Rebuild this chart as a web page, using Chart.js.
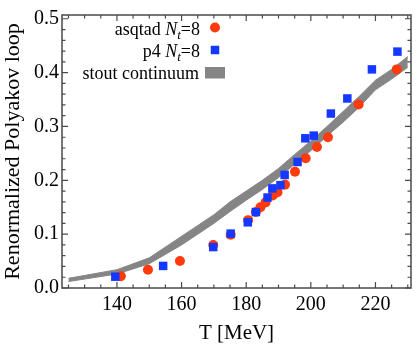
<!doctype html>
<html>
<head>
    <title>Renormalized Polyakov loop</title>
    <meta charset="utf-8">
    <style>
        html, body {
            background: #fff;
            margin: 0;
            padding: 0;
        }

        .container {
            height: 346px;
            position: relative;
            width: 417px;
        }
    </style>
    <script src="https://cdn.jsdelivr.net/npm/chart.js@4/dist/chart.umd.min.js"></script>
</head>
<body>
<div class="container">
    <canvas id="chart" width="417" height="346"></canvas>
</div>
<script>
    "use strict";

    // asqtad, N_t = 8
    const asqtadT = [141.2, 149.6, 159.5, 169.8, 175.2, 180.6, 183.0, 184.4, 186.0, 188.2, 189.7, 192.0, 195.1, 198.4, 201.9, 205.3, 214.8, 226.6];
    const asqtadL = [0.022, 0.034, 0.050, 0.080, 0.099, 0.126, 0.141, 0.150, 0.159, 0.172, 0.178, 0.192, 0.216, 0.241, 0.262, 0.280, 0.341, 0.406];

    // p4, N_t = 8
    const p4T = [139.5, 154.3, 169.8, 175.2, 180.5, 183.0, 186.6, 188.1, 190.6, 191.9, 195.9, 198.3, 200.9, 206.2, 211.3, 218.9, 226.8];
    const p4L = [0.021, 0.041, 0.076, 0.101, 0.122, 0.141, 0.168, 0.185, 0.191, 0.210, 0.234, 0.278, 0.283, 0.324, 0.352, 0.406, 0.439];

    // stout continuum band
    const stoutT = [125, 140, 150, 160, 165, 170, 175, 180, 185, 190, 195, 200, 205, 210, 215, 220, 225, 230];
    const stoutLow = [0.012, 0.026, 0.045, 0.080, 0.100, 0.120, 0.142, 0.163, 0.183, 0.205, 0.230, 0.255, 0.282, 0.308, 0.336, 0.368, 0.388, 0.410];
    const stoutHigh = [0.018, 0.034, 0.056, 0.096, 0.116, 0.136, 0.160, 0.180, 0.200, 0.222, 0.248, 0.273, 0.300, 0.328, 0.356, 0.386, 0.406, 0.430];

    const xTicks = [140, 160, 180, 200, 220];
    const xMinorTicks = [125, 130, 135, 145, 150, 155, 165, 170, 175, 185, 190, 195, 205, 210, 215, 225, 230];
    const yTicks = [0.0, 0.1, 0.2, 0.3, 0.4, 0.5];
    const yMinorTicks = [0.02, 0.04, 0.06, 0.08, 0.12, 0.14, 0.16, 0.18, 0.22, 0.24, 0.26, 0.28, 0.32, 0.34, 0.36, 0.38, 0.42, 0.44, 0.46, 0.48];

    const serif = "'Liberation Serif', 'DejaVu Serif', serif";
    const redColor = "#ff3a0c";
    const blueColor = "#1438ff";
    const bandColor = "#858585";
    const frameColor = "#4a4a4a";

    function points(xs, ys) {
        return xs.map(function (x, i) {
            return {x: x, y: ys[i]};
        });
    }

    // frame with inward ticks on all four sides
    const framePlugin = {
        id: "frame",
        afterDraw: function (chart) {
            let ctx = chart.ctx;
            let a = chart.chartArea;
            let sx = chart.scales.x;
            let sy = chart.scales.y;
            ctx.save();
            ctx.strokeStyle = frameColor;
            ctx.lineWidth = 1.5;
            ctx.strokeRect(a.left, a.top, a.right - a.left, a.bottom - a.top);
            ctx.lineWidth = 1.2;
            ctx.beginPath();
            function xt(v, len) {
                let px = sx.getPixelForValue(v);
                ctx.moveTo(px, a.bottom);
                ctx.lineTo(px, a.bottom - len);
                ctx.moveTo(px, a.top);
                ctx.lineTo(px, a.top + len);
            }
            function yt(v, len) {
                let py = sy.getPixelForValue(v);
                ctx.moveTo(a.left, py);
                ctx.lineTo(a.left + len, py);
                ctx.moveTo(a.right, py);
                ctx.lineTo(a.right - len, py);
            }
            xTicks.forEach(function (v) { xt(v, 6); });
            xMinorTicks.forEach(function (v) { xt(v, 3.5); });
            yTicks.forEach(function (v) { yt(v, 6); });
            yMinorTicks.forEach(function (v) { yt(v, 3.5); });
            ctx.stroke();
            ctx.restore();
        },
    };

    // legend with italic N and subscript t
    const legendPlugin = {
        id: "customLegend",
        afterDraw: function (chart) {
            let ctx = chart.ctx;
            let size = 18;
            let normal = size + "px " + serif;
            let italic = "italic " + size + "px " + serif;
            let sub = "italic " + Math.round(size * 0.72) + "px " + serif;

            function row(parts, right, baseline) {
                let total = 0;
                parts.forEach(function (p) {
                    ctx.font = p[1];
                    total += ctx.measureText(p[0]).width;
                });
                let x = right - total;
                parts.forEach(function (p) {
                    ctx.font = p[1];
                    ctx.fillText(p[0], x, baseline + (p[2] || 0));
                    x += ctx.measureText(p[0]).width;
                });
            }

            ctx.save();
            ctx.fillStyle = "#000";
            ctx.textBaseline = "alphabetic";
            ctx.textAlign = "left";
            row([["asqtad ", normal], ["N", italic], ["t", sub, 4], ["=8", normal]], 200, 35);
            row([["p4 ", normal], ["N", italic], ["t", sub, 4], ["=8", normal]], 200, 57);
            row([["stout continuum", normal]], 199, 79);

            ctx.fillStyle = redColor;
            ctx.beginPath();
            ctx.arc(215, 27.5, 5, 0, Math.PI * 2);
            ctx.fill();
            ctx.fillStyle = blueColor;
            ctx.fillRect(210.75, 45.75, 8.5, 8.5);
            ctx.fillStyle = bandColor;
            ctx.fillRect(205, 67, 20, 11.5);
            ctx.restore();
        },
    };

    new Chart(document.getElementById("chart"), {
        type: "scatter",
        data: {
            datasets: [
                {
                    type: "line",
                    data: points(stoutT, stoutLow),
                    borderColor: bandColor,
                    borderWidth: 1,
                    pointRadius: 0,
                    fill: false,
                    tension: 0,
                    order: 3,
                },
                {
                    type: "line",
                    data: points(stoutT, stoutHigh),
                    borderColor: bandColor,
                    backgroundColor: bandColor,
                    borderWidth: 1,
                    pointRadius: 0,
                    fill: "-1",
                    tension: 0,
                    order: 3,
                },
                {
                    data: points(asqtadT, asqtadL),
                    backgroundColor: redColor,
                    borderWidth: 0,
                    pointRadius: 5,
                    pointStyle: "circle",
                    order: 2,
                },
                {
                    data: points(p4T, p4L),
                    backgroundColor: blueColor,
                    borderWidth: 0,
                    pointRadius: 6,
                    pointStyle: "rect",
                    order: 1,
                },
            ],
        },
        options: {
            animation: false,
            devicePixelRatio: 1,
            responsive: false,
            layout: {
                padding: {top: 7, right: 4, left: 0, bottom: 0},
            },
            plugins: {
                legend: {display: false},
                tooltip: {enabled: false},
            },
            scales: {
                x: {
                    type: "linear",
                    min: 123,
                    max: 231,
                    afterBuildTicks: function (scale) {
                        scale.ticks = xTicks.map(function (v) { return {value: v}; });
                    },
                    afterFit: function (scale) {
                        scale.height = 58;
                    },
                    grid: {display: false, drawTicks: false},
                    border: {display: false},
                    ticks: {
                        color: "#000",
                        font: {family: serif, size: 20},
                        padding: 5,
                        maxRotation: 0,
                        autoSkip: false,
                    },
                    title: {
                        display: true,
                        text: "T [MeV]",
                        color: "#000",
                        font: {family: serif, size: 21},
                        padding: {top: 0, bottom: 0},
                    },
                },
                y: {
                    type: "linear",
                    min: 0,
                    max: 0.507,
                    afterBuildTicks: function (scale) {
                        scale.ticks = yTicks.map(function (v) { return {value: v}; });
                    },
                    afterFit: function (scale) {
                        scale.width = 62;
                    },
                    grid: {display: false, drawTicks: false},
                    border: {display: false},
                    ticks: {
                        color: "#000",
                        font: {family: serif, size: 20},
                        padding: 3,
                        callback: function (v) { return v.toFixed(1); },
                    },
                    title: {
                        display: true,
                        text: "Renormalized Polyakov loop",
                        color: "#000",
                        font: {family: serif, size: 22},
                        padding: {top: 0, bottom: 0},
                    },
                },
            },
        },
        plugins: [framePlugin, legendPlugin],
    });
</script>
</body>
</html>
